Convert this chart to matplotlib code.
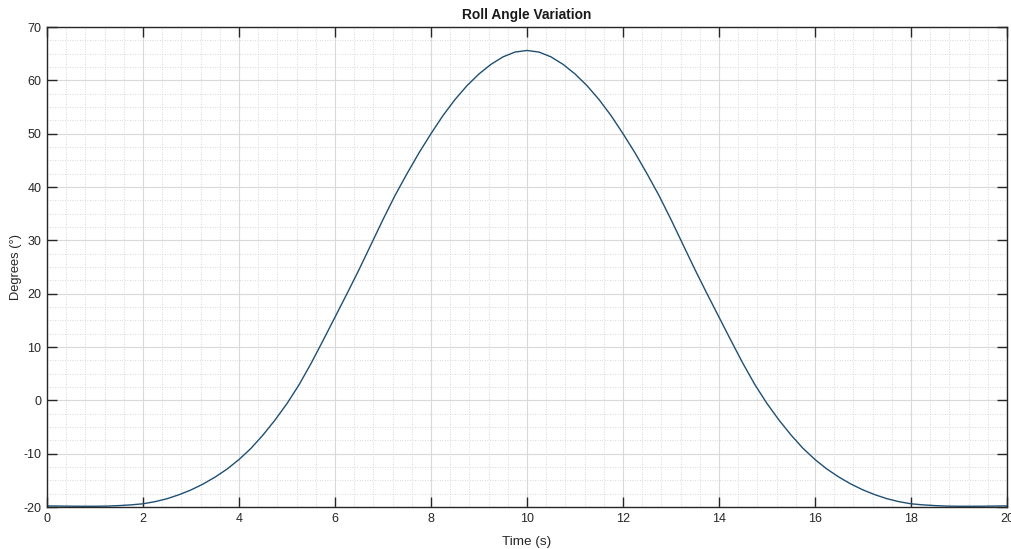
import matplotlib
matplotlib.use("Agg")
import matplotlib.pyplot as plt
from matplotlib.ticker import MultipleLocator

plt.rcParams['font.family'] = ['Liberation Sans', 'DejaVu Sans']
plt.rcParams['axes.unicode_minus'] = False

time_s = [0, 0.25, 0.5, 0.75, 1, 1.25, 1.5, 1.75, 2, 2.25, 2.5, 2.75, 3, 3.25, 3.5, 3.75,
          4, 4.25, 4.5, 4.75, 5, 5.25, 5.5, 5.75, 6, 6.25, 6.5, 6.75, 7, 7.25, 7.5, 7.75,
          8, 8.25, 8.5, 8.75, 9, 9.25, 9.5, 9.75, 10,
          10.25, 10.5, 10.75, 11, 11.25, 11.5, 11.75, 12, 12.25, 12.5, 12.75, 13, 13.25,
          13.5, 13.75, 14, 14.25, 14.5, 14.75, 15, 15.25, 15.5, 15.75, 16, 16.25, 16.5,
          16.75, 17, 17.25, 17.5, 17.75, 18, 18.25, 18.5, 18.75, 19, 19.25, 19.5, 19.75, 20]
roll_deg = [-19.8, -19.82, -19.85, -19.86, -19.86, -19.83, -19.74, -19.6, -19.4, -19.0,
            -18.45, -17.7, -16.8, -15.7, -14.4, -12.9, -11.1, -9.0, -6.5, -3.7, -0.6,
            2.9, 6.9, 11.2, 15.6, 20.0, 24.5, 29.2, 33.9, 38.4, 42.5, 46.4,
            50.0, 53.4, 56.4, 59.0, 61.2, 63.0, 64.4, 65.3, 65.6,
            65.3, 64.4, 63.0, 61.2, 59.0, 56.4, 53.4, 50.0, 46.4, 42.5, 38.4, 33.9, 29.2,
            24.5, 20.0, 15.6, 11.2, 6.9, 2.9, -0.6, -3.7, -6.5, -9.0, -11.1, -12.9, -14.4,
            -15.7, -16.8, -17.7, -18.45, -19.0, -19.4, -19.6, -19.74, -19.83, -19.86,
            -19.86, -19.85, -19.82, -19.8]
x_ticks = [0, 2, 4, 6, 8, 10, 12, 14, 16, 18, 20]
y_ticks = [-20, -10, 0, 10, 20, 30, 40, 50, 60, 70]

W, H = 1011, 549
fig = plt.figure(figsize=(W / 100, H / 100), dpi=100)
ax = fig.add_axes([47 / W, 1 - 507 / H, 960 / W, 480 / H])

ax.plot(time_s, roll_deg, color='#1f4f72', lw=1.0)

ax.set_xlim(0, 20)
ax.set_ylim(-20, 70)
ax.set_xticks(x_ticks)
ax.set_yticks(y_ticks)
ax.xaxis.set_minor_locator(MultipleLocator(0.4))
ax.yaxis.set_minor_locator(MultipleLocator(2.5))

ax.grid(which='major', color='#d9d9d9', lw=0.8, ls='-')
ax.grid(which='minor', color='#cccccc', lw=0.6, ls=(0, (1, 2)))
ax.set_axisbelow(True)

ax.tick_params(which='major', direction='in', length=7, width=1, color='#262626',
               top=True, right=True, labelsize=9, labelcolor='#262626', pad=4)
ax.tick_params(which='minor', length=0, top=True, right=True)
for s in ax.spines.values():
    s.set_color('#262626')
    s.set_linewidth(1)

ax.set_title('Roll Angle Variation', fontsize=9.9, fontweight='bold', color='#1a1a1a', pad=6)
ax.set_xlabel('Time (s)', fontsize=9.7, color='#262626', labelpad=8)
ax.set_ylabel('Degrees (°)', fontsize=9.3, color='#262626', labelpad=1)

fig.savefig('out.png', dpi=100)
